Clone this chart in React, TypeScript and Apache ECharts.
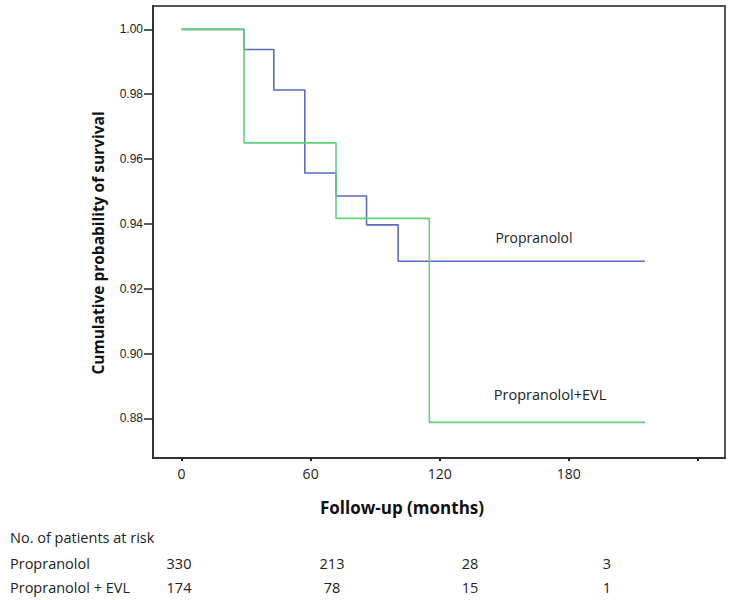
import React, { useEffect, useRef } from "react";
import * as echarts from "echarts";

// Kaplan-Meier step data: [month, survival]
const propranolol: [number, number][] = [
  [0, 1.0], [29, 0.9938], [42.9, 0.9813], [57.3, 0.9557], [71.8, 0.9486],
  [86, 0.9397], [100.7, 0.9285], [215.5, 0.9285],
];
const propranololEVL: [number, number][] = [
  [0, 1.0], [29, 0.965], [71.8, 0.9417], [115.2, 0.8788], [215.5, 0.8788],
];
const xTicks = [0, 60, 120, 180, 240];
const xLabels = [0, 60, 120, 180];
const yTicks = [0.88, 0.9, 0.92, 0.94, 0.96, 0.98, 1.0];

const riskGroups = ["Propranolol", "Propranolol + EVL"];
const riskPropranolol = [330, 213, 28, 3];
const riskEVL = [174, 78, 15, 1];
const riskColX = [179, 332, 470, 607];

const FONT = "'Open Sans', 'Noto Sans', sans-serif";

export default function App() {
  const ref = useRef<HTMLDivElement>(null);
  useEffect(() => {
    if (!ref.current) return;
    const chart = echarts.init(ref.current, null, { renderer: "svg" });
    const riskTexts: any[] = [];
    [riskPropranolol, riskEVL].forEach((row, r) => {
      const y = r === 0 ? 563 : 587;
      riskTexts.push({
        type: "text", x: 10, y,
        style: { text: riskGroups[r], font: `14.5px ${FONT}`, fill: "#222", textAlign: "left", textVerticalAlign: "middle" },
      });
      row.forEach((v, i) => {
        riskTexts.push({
          type: "text", x: riskColX[i], y,
          style: { text: String(v), font: `14.5px ${FONT}`, fill: "#222", textAlign: "center", textVerticalAlign: "middle" },
        });
      });
    });

    chart.setOption({
      animation: false,
      grid: {
        left: 153, top: 6, right: 8, bottom: 142,
        show: true, borderColor: "#555", borderWidth: 2, backgroundColor: "#fff",
      },
      xAxis: {
        type: "value", min: -13.3, max: 252.7,
        splitLine: { show: false },
        axisLine: { onZero: false, lineStyle: { color: "#333", width: 2 } },
        axisTick: { show: true, length: 3, customValues: xTicks, lineStyle: { color: "#222", width: 2 } },
        axisLabel: {
          customValues: xLabels, margin: 8, fontSize: 14, fontFamily: FONT, color: "#222",
        },
      },
      yAxis: {
        type: "value", min: 0.8678, max: 1.0072,
        splitLine: { show: false },
        axisLine: { onZero: false, lineStyle: { color: "#333", width: 2 } },
        axisTick: { show: true, length: 9, customValues: yTicks, lineStyle: { color: "#222", width: 1.5 } },
        axisLabel: {
          customValues: yTicks, margin: 10, fontSize: 12, fontFamily: "'Liberation Sans', Arial, sans-serif", color: "#222",
          formatter: (v: number) => v.toFixed(2),
        },
      },
      series: [
        {
          name: "Propranolol", type: "line", step: "end", data: propranolol,
          showSymbol: false, lineStyle: { color: "#5a6cc0", width: 1.6 }, z: 2,
        },
        {
          name: "Propranolol+EVL", type: "line", step: "end", data: propranololEVL,
          showSymbol: false, lineStyle: { color: "#5fd27a", width: 1.6 }, z: 3,
        },
      ],
      graphic: [
        {
          type: "text", x: 534, y: 237,
          style: { text: "Propranolol", font: `14px ${FONT}`, fill: "#222", textAlign: "center", textVerticalAlign: "middle" },
        },
        {
          type: "text", x: 550, y: 394,
          style: { text: "Propranolol+EVL", font: `14.5px ${FONT}`, fill: "#222", textAlign: "center", textVerticalAlign: "middle" },
        },
        {
          type: "text", x: 98, y: 243, rotation: Math.PI / 2,
          style: { text: "Cumulative probability of survival", font: `bold 15.5px ${FONT}`, fill: "#111", textAlign: "center", textVerticalAlign: "middle" },
        },
        {
          type: "text", x: 402, y: 507,
          style: { text: "Follow-up (months)", font: `bold 17px ${FONT}`, fill: "#111", textAlign: "center", textVerticalAlign: "middle" },
        },
        {
          type: "text", x: 10, y: 537,
          style: { text: "No. of patients at risk", font: `14.5px ${FONT}`, fill: "#222", textAlign: "left", textVerticalAlign: "middle" },
        },
        ...riskTexts,
      ],
    });
    return () => chart.dispose();
  }, []);
  return <div ref={ref} style={{ width: 733, height: 600, position: "absolute", left: 0, top: 0 }} />;
}
